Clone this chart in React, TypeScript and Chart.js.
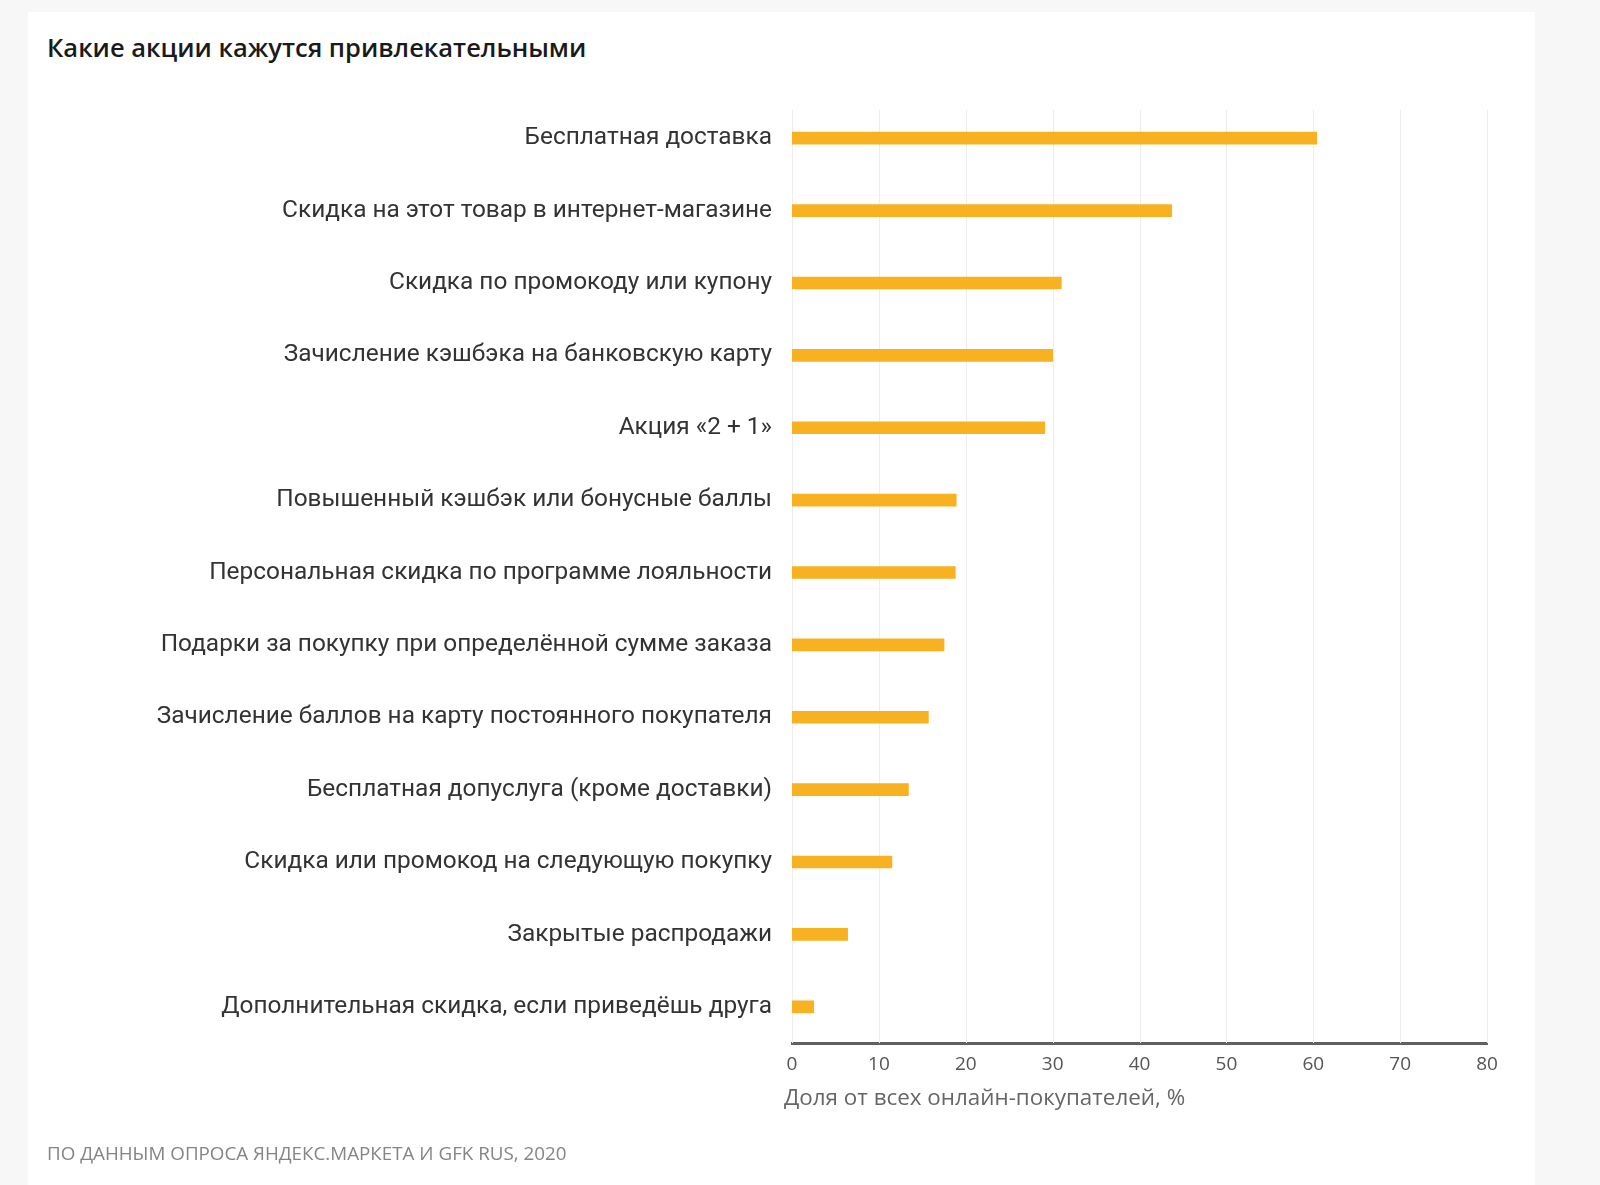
import React, { useEffect, useRef } from "react";
import { Chart, registerables } from "chart.js";

Chart.register(...registerables);

const chartTitle = "Какие акции кажутся привлекательными";
const sourceNote = "ПО ДАННЫМ ОПРОСА ЯНДЕКС.МАРКЕТА И GFK RUS, 2020";
const axisTitle = "Доля от всех онлайн-покупателей, %";

const categories = [
  "Бесплатная доставка",
  "Скидка на этот товар в интернет-магазине",
  "Скидка по промокоду или купону",
  "Зачисление кэшбэка на банковскую карту",
  "Акция «2 + 1»",
  "Повышенный кэшбэк или бонусные баллы",
  "Персональная скидка по программе лояльности",
  "Подарки за покупку при определённой сумме заказа",
  "Зачисление баллов на карту постоянного покупателя",
  "Бесплатная допуслуга (кроме доставки)",
  "Скидка или промокод на следующую покупку",
  "Закрытые распродажи",
  "Дополнительная скидка, если приведёшь друга",
];

const shares = [60.4, 43.7, 31.0, 30.0, 29.1, 18.9, 18.8, 17.5, 15.7, 13.4, 11.5, 6.4, 2.5];

const xTickValues = [0, 10, 20, 30, 40, 50, 60, 70, 80];

const BAR_COLOR = "#f8b120";
const LABEL_FONT = "Roboto, 'Liberation Sans', Arial, sans-serif";
const AXIS_FONT = "'Open Sans', sans-serif";

const gridAndTitlePlugin = {
  id: "gridAndTitle",
  beforeDatasetsDraw(chart: any) {
    const { ctx, chartArea } = chart;
    const xs = chart.scales.x;
    ctx.save();
    ctx.strokeStyle = "#ededed";
    ctx.lineWidth = 1;
    const top = chartArea.top + 8;
    xTickValues.forEach((v) => {
      const px = Math.round(xs.getPixelForValue(v)) + 0.5;
      ctx.beginPath();
      ctx.moveTo(px, top);
      ctx.lineTo(px, chartArea.bottom);
      ctx.stroke();
    });
    ctx.restore();
  },
  afterDraw(chart: any) {
    const { ctx } = chart;
    const xs = chart.scales.x;
    ctx.save();
    ctx.font = `22.4px ${AXIS_FONT}`;
    ctx.fillStyle = "#666666";
    ctx.textAlign = "left";
    ctx.textBaseline = "middle";
    ctx.fillText(axisTitle, xs.left - 8, xs.top + 56);
    ctx.restore();
  },
};

export default function App() {
  const canvasRef = useRef<HTMLCanvasElement | null>(null);

  useEffect(() => {
    const canvas = canvasRef.current;
    if (!canvas) return;
    const chart = new Chart(canvas, {
      type: "bar",
      data: {
        labels: categories,
        datasets: [
          {
            data: shares,
            backgroundColor: BAR_COLOR,
            borderWidth: 0,
            barThickness: 12,
          },
        ],
      },
      options: {
        indexAxis: "y",
        responsive: false,
        animation: false,
        devicePixelRatio: 1,
        layout: { padding: { top: 102, right: 113, left: 0, bottom: 0 } },
        plugins: {
          legend: { display: false },
          tooltip: { enabled: false },
        },
        scales: {
          x: {
            type: "linear",
            position: "bottom",
            min: xTickValues[0],
            max: xTickValues[xTickValues.length - 1],
            afterBuildTicks: (scale: any) => {
              scale.ticks = xTickValues.map((v) => ({ value: v }));
            },
            ticks: {
              padding: 10,
              color: "#555555",
              font: { family: AXIS_FONT, size: 19 },
              autoSkip: false,
              maxRotation: 0,
            },
            grid: { display: false, drawTicks: false },
            border: { display: true, color: "#606060", width: 3 },
            afterFit: (scale: any) => {
              scale.height = 142;
            },
          },
          y: {
            type: "category",
            grid: { display: false, drawTicks: false },
            border: { display: false },
            ticks: {
              padding: 20,
              color: "#333333",
              autoSkip: false,
              font: { family: LABEL_FONT, size: 24.4 },
            },
            afterFit: (scale: any) => {
              scale.width = 792;
            },
          },
        },
      },
      plugins: [gridAndTitlePlugin],
    });
    return () => chart.destroy();
  }, []);

  return (
    <div
      style={{
        position: "absolute",
        left: 0,
        top: 0,
        width: 1600,
        height: 1185,
        background: "#f7f7f7",
        overflow: "hidden",
      }}
    >
      <div
        style={{
          position: "absolute",
          left: 28,
          top: 12,
          width: 1507,
          height: 1200,
          background: "#ffffff",
        }}
      />
      <div
        style={{
          position: "absolute",
          left: 47,
          top: 29,
          fontFamily: "'Open Sans', sans-serif",
          fontWeight: 600,
          fontSize: 25.5,
          lineHeight: "36px",
          color: "#1a1a1a",
          whiteSpace: "nowrap",
        }}
      >
        {chartTitle}
      </div>
      <canvas
        ref={canvasRef}
        width={1600}
        height={1185}
        style={{ position: "absolute", left: 0, top: 0, width: 1600, height: 1185 }}
      />
      <div
        style={{
          position: "absolute",
          left: 47,
          top: 1140,
          fontFamily: "'Open Sans', sans-serif",
          fontSize: 18.8,
          lineHeight: "26px",
          color: "#858585",
          whiteSpace: "nowrap",
        }}
      >
        {sourceNote}
      </div>
    </div>
  );
}
